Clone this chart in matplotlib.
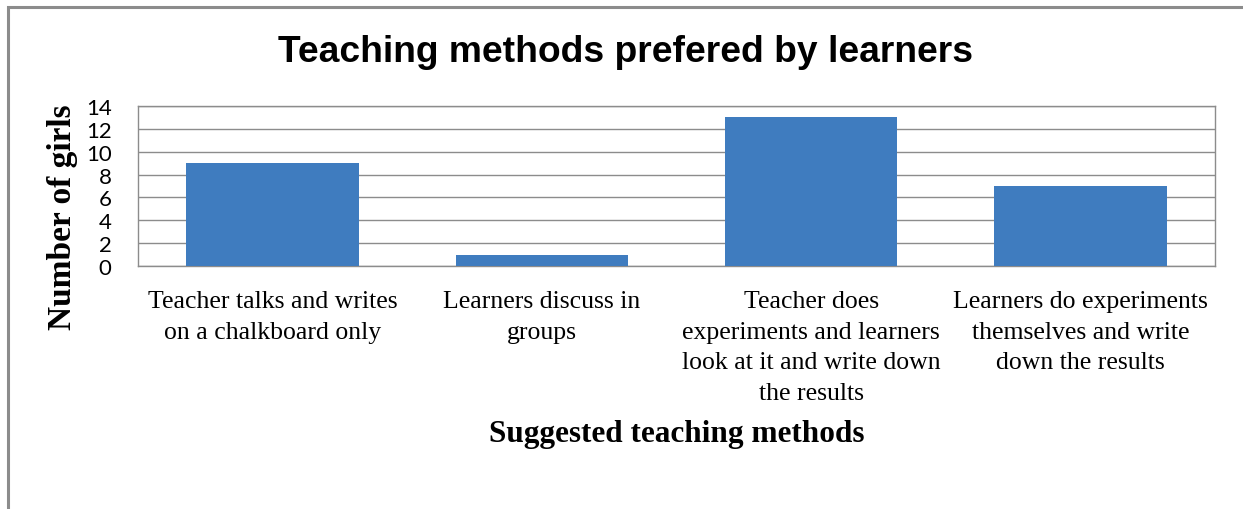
import matplotlib
matplotlib.use("Agg")
import matplotlib.pyplot as plt
from matplotlib.patches import Rectangle

categories = [
    "Teacher talks and writes\non a chalkboard only",
    "Learners discuss in\ngroups",
    "Teacher does\nexperiments and learners\nlook at it and write down\nthe results",
    "Learners do experiments\nthemselves and write\ndown the results",
]
values = [9, 1, 13, 7]
yticks = [0, 2, 4, 6, 8, 10, 12, 14]

W, H = 1243, 510
fig = plt.figure(figsize=(W / 100, H / 100), dpi=100)

# outer chart border
fig.patches.append(Rectangle((8 / W, -0.1), 1.2, 1 - 8 / H + 0.1, transform=fig.transFigure,
                             fill=False, edgecolor="#8c8c8c", linewidth=2.2))

ax = fig.add_axes([138 / W, 1 - 267 / H, (1215 - 138) / W, (267 - 107) / H])
x = list(range(len(categories)))
ax.bar(x, values, width=0.64, color="#3F7CBF", zorder=3)
ax.set_xlim(-0.5, len(categories) - 0.5)
ax.set_ylim(0, 14)
ax.set_yticks(yticks)
ax.set_yticklabels([str(t) for t in yticks], fontfamily="Lato", fontsize=16)
ax.grid(axis="y", color="#8c8c8c", linewidth=1.0, zorder=0)
for s in ax.spines.values():
    s.set_color("#8c8c8c")
    s.set_linewidth(1.0)
ax.tick_params(axis="both", length=0)
ax.tick_params(axis="y", pad=19)
ax.set_xticks(x)
ax.set_xticklabels(categories, fontfamily="Liberation Serif", fontsize=18.5,
                   linespacing=1.5, va="top")
ax.tick_params(axis="x", pad=17.5)

ax.set_ylabel("Number of girls", fontfamily="Liberation Serif", fontweight="bold",
              fontsize=24)
ax.yaxis.set_label_coords(-(138 - 62) / (1215 - 138), (267 - 217) / (267 - 107))
ax.yaxis.label.set_va("center")

fig.text(677 / W, 1 - 435 / H, "Suggested teaching methods", fontfamily="Liberation Serif",
         fontweight="bold", fontsize=22.5, ha="center", va="center")
fig.text(626 / W, 1 - 53 / H, "Teaching methods prefered by learners",
         fontfamily="Liberation Sans", fontweight="bold", fontsize=26.8, ha="center", va="center")

fig.savefig("out.png", dpi=100)
